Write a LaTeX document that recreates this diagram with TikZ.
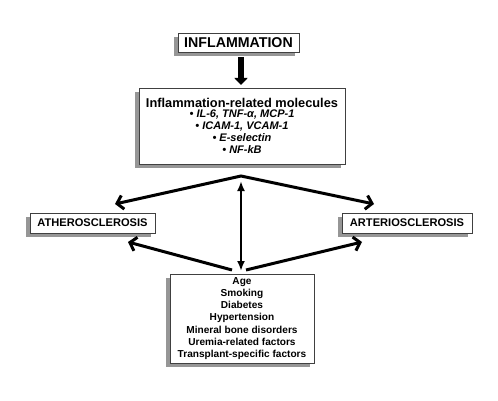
\documentclass[tikz,border=0pt]{standalone}
\usepackage{fontspec}
\setmainfont{Liberation Sans}
\usetikzlibrary{arrows.meta}
\definecolor{shadowgray}{RGB}{150,150,150}
\definecolor{boxline}{RGB}{64,64,64}
\newcommand{\molitem}{\fontsize{11}{13.7}\selectfont\bfseries\itshape}
\tikzset{
  sbox/.style={draw=boxline, line width=0.9pt, fill=white, inner sep=0pt, align=center},
  shadowbox/.style={fill=shadowgray, draw=none},
  barb/.style={line width=3pt, line join=miter, -{Straight Barb[length=6pt,width=14pt,line width=3pt]}},
  dbl/.style={line width=2.6pt, {Latex[length=10pt,width=8pt]}-{Latex[length=10pt,width=8pt]}},
  thick arrow/.style={line width=6pt, -{Triangle[length=7pt,width=13pt]}}
}
\begin{document}
\begin{tikzpicture}[x=1pt,y=-1pt]
\useasboundingbox (0,0) rectangle (498,401);
\fill[white] (0,0) rectangle (498,401);

% shadows (offset 4px left and down)
\fill[shadowbox] (174,37) rectangle (295,56);
\fill[shadowbox] (135,92) rectangle (341,168);
\fill[shadowbox] (26,217) rectangle (151,237);
\fill[shadowbox] (338,217) rectangle (468,237);
\fill[shadowbox] (166,278) rectangle (310,367);

\node[sbox, minimum width=121pt, minimum height=19pt, font=\fontsize{14.2}{16}\selectfont\bfseries]
  (infl) at (238.5,42.5) {INFLAMMATION};

\node[sbox, minimum width=206pt, minimum height=76pt, font=\bfseries]
  (mol) at (242,126) {\fontsize{12.8}{14}\selectfont Inflammation-related molecules\\[-1.5pt]
  \molitem • IL-6, TNF-α, MCP-1\\ \molitem • ICAM-1, VCAM-1\\ \molitem • E-selectin\\ \molitem • NF-kB};

\node[sbox, minimum width=125pt, minimum height=20pt, font=\fontsize{11.1}{13}\selectfont\bfseries]
  (ath) at (92.5,223) {ATHEROSCLEROSIS};

\node[sbox, minimum width=130pt, minimum height=20pt, font=\fontsize{11.1}{13}\selectfont\bfseries]
  (art) at (407,223) {ARTERIOSCLEROSIS};

\node[sbox, minimum width=144pt, minimum height=89pt, font=\fontsize{10.1}{12.2}\selectfont\bfseries]
  (risk) at (242,318.5) {Age\\ Smoking\\ Diabetes\\ Hypertension\\ Mineral bone disorders\\ Uremia-related factors\\ Transplant-specific factors};

\coordinate (apex) at (241,176);
\coordinate (ltip) at (115,204);
\coordinate (rtip) at (374,204);
\coordinate (vtop) at (241,181);
\coordinate (vbot) at (241,271);
\coordinate (lstart) at (232,270);
\coordinate (rstart) at (246,270);
\coordinate (lltip) at (128,242);
\coordinate (rltip) at (362,242);
\coordinate (infl out) at (241,57);
\coordinate (mol in) at (241,85);

\draw[thick arrow] (infl out) -- (mol in);
\draw[line width=3pt, line join=miter, {Straight Barb[length=6pt,width=14pt,line width=3pt]}-{Straight Barb[length=6pt,width=14pt,line width=3pt]}]
  (ltip) -- (apex) -- (rtip);
\draw[dbl] (vtop) -- (vbot);
\draw[barb] (lstart) -- (lltip);
\draw[barb] (rstart) -- (rltip);
\end{tikzpicture}
\end{document}
